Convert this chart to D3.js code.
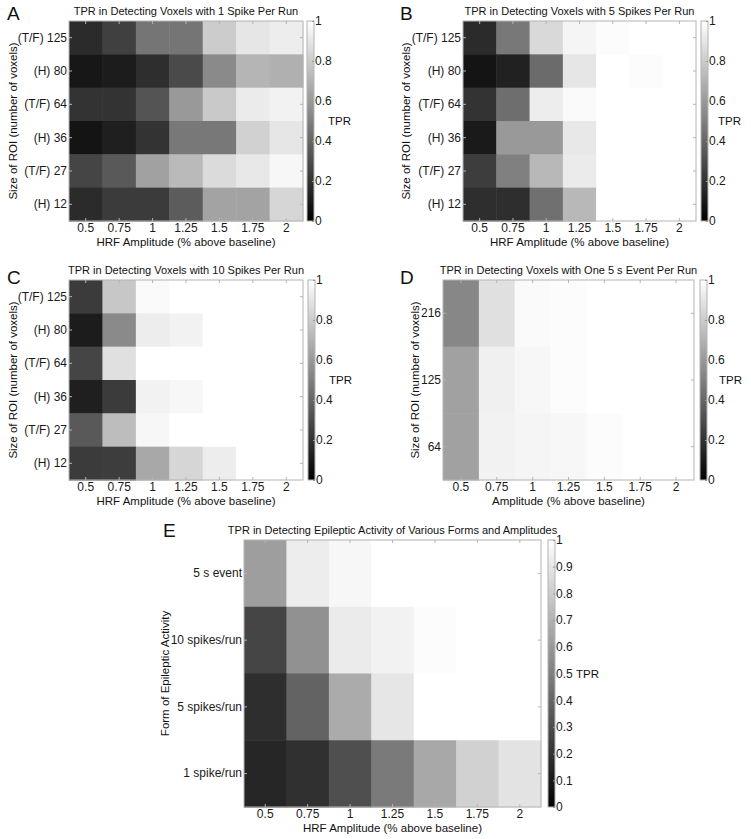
<!DOCTYPE html>
<html>
<head>
<meta charset="utf-8">
<script src="https://cdn.jsdelivr.net/npm/d3@7"></script>
<style>
  body { margin: 0; background: #fff; }
  svg { font-family: "Liberation Sans", Arial, sans-serif; }
  .tick text { fill: #1a1a1a; }
</style>
</head>
<body>
<script>
'use strict';

// amplitudes shared by every panel
var amplitudes = ['0.5', '0.75', '1', '1.25', '1.5', '1.75', '2'];
var roiRows = ['(T/F) 125', '(H) 80', '(T/F) 64', '(H) 36', '(T/F) 27', '(H) 12'];
var eventRows = ['216', '125', '64'];
var formRows = ['5 s event', '10 spikes/run', '5 spikes/run', '1 spike/run'];

// TPR values, rows top to bottom, columns 0.5 .. 2
var tprOneSpike = [
  [0.17, 0.25, 0.46, 0.46, 0.80, 0.90, 0.93],
  [0.09, 0.11, 0.18, 0.29, 0.54, 0.71, 0.69],
  [0.20, 0.20, 0.33, 0.60, 0.79, 0.92, 0.95],
  [0.08, 0.12, 0.20, 0.47, 0.47, 0.82, 0.90],
  [0.27, 0.35, 0.63, 0.73, 0.86, 0.91, 0.97],
  [0.17, 0.23, 0.23, 0.36, 0.64, 0.64, 0.84]
];
var tprFiveSpikes = [
  [0.17, 0.47, 0.85, 0.96, 0.99, 1.00, 1.00],
  [0.08, 0.13, 0.42, 0.90, 1.00, 0.99, 1.00],
  [0.20, 0.43, 0.93, 0.98, 1.00, 1.00, 1.00],
  [0.10, 0.60, 0.60, 0.91, 1.00, 1.00, 1.00],
  [0.24, 0.50, 0.72, 0.92, 1.00, 1.00, 1.00],
  [0.18, 0.18, 0.44, 0.72, 1.00, 1.00, 1.00]
];
var tprTenSpikes = [
  [0.23, 0.78, 0.98, 1.00, 1.00, 1.00, 1.00],
  [0.11, 0.54, 0.93, 0.95, 1.00, 1.00, 1.00],
  [0.27, 0.88, 1.00, 1.00, 1.00, 1.00, 1.00],
  [0.12, 0.23, 0.95, 0.97, 1.00, 1.00, 1.00],
  [0.35, 0.74, 0.97, 1.00, 1.00, 1.00, 1.00],
  [0.23, 0.24, 0.66, 0.84, 0.93, 1.00, 1.00]
];
var tprEvent = [
  [0.53, 0.88, 0.98, 0.99, 1.00, 1.00, 1.00],
  [0.63, 0.94, 0.97, 0.99, 1.00, 1.00, 1.00],
  [0.63, 0.95, 0.96, 0.97, 0.99, 1.00, 1.00]
];
var tprForms = [
  [0.62, 0.93, 0.97, 1.00, 1.00, 1.00, 1.00],
  [0.27, 0.57, 0.92, 0.95, 0.99, 1.00, 1.00],
  [0.18, 0.39, 0.67, 0.90, 1.00, 1.00, 1.00],
  [0.15, 0.19, 0.31, 0.48, 0.66, 0.82, 0.89]
];

var cbTicks = [0, 0.2, 0.4, 0.6, 0.8, 1];
var cbTicksFine = [0, 0.1, 0.2, 0.3, 0.4, 0.5, 0.6, 0.7, 0.8, 0.9, 1];

var W = 751, H = 839;
var frameColor = '#b4b4b4';
var fs = 11.5;

var svg = d3.select('body').append('svg')
  .attr('width', W)
  .attr('height', H);

var defs = svg.append('defs');
var grad = defs.append('linearGradient')
  .attr('id', 'gray')
  .attr('x1', 0).attr('y1', 1).attr('x2', 0).attr('y2', 0);
grad.append('stop').attr('offset', '0%').attr('stop-color', '#000');
grad.append('stop').attr('offset', '100%').attr('stop-color', '#fff');

var color = d3.scaleLinear().domain([0, 1]).range(['#000', '#fff']);

function panel(cfg) {
  var g = svg.append('g')
    .attr('transform', 'translate(' + cfg.x + ',' + cfg.y + ')');

  var x = d3.scaleBand().domain(amplitudes).range([0, cfg.w]);
  var y = d3.scaleBand().domain(cfg.rows).range([0, cfg.h]);

  // cells
  cfg.values.forEach(function (row, i) {
    g.selectAll(null)
      .data(row)
      .enter().append('rect')
      .attr('x', function (d, j) { return x(amplitudes[j]); })
      .attr('y', y(cfg.rows[i]))
      .attr('width', x.bandwidth() + 0.5)
      .attr('height', y.bandwidth() + 0.5)
      .attr('fill', function (d) { return color(d); });
  });

  g.append('rect')
    .attr('width', cfg.w).attr('height', cfg.h)
    .attr('fill', 'none')
    .attr('stroke', frameColor);

  // axes, ticks pointing inwards (matlab style)
  var bottom = g.append('g')
    .attr('transform', 'translate(0,' + cfg.h + ')')
    .call(d3.axisBottom(x).tickSize(-3).tickPadding(4));
  g.append('g')
    .call(d3.axisLeft(y).tickSize(-3).tickPadding(2));
  g.append('g')
    .call(d3.axisTop(x).tickSize(-3).tickFormat(''));
  g.append('g')
    .attr('transform', 'translate(' + cfg.w + ',0)')
    .call(d3.axisRight(y).tickSize(-3).tickFormat(''));

  g.selectAll('.domain').remove();
  g.selectAll('.tick line').attr('stroke', frameColor);
  g.selectAll('.tick text').attr('font-size', fs + 0.5);
  bottom.selectAll('.tick text').attr('dy', '0.6em');

  // titles and labels
  g.append('text')
    .attr('x', cfg.w / 2).attr('y', -6)
    .attr('text-anchor', 'middle')
    .attr('font-size', 11)
    .attr('fill', '#111')
    .text(cfg.title);

  g.append('text')
    .attr('x', cfg.w / 2).attr('y', cfg.h + 25)
    .attr('text-anchor', 'middle')
    .attr('font-size', fs)
    .attr('fill', '#111')
    .text(cfg.xLabel);

  g.append('text')
    .attr('transform', 'translate(' + cfg.yLabelX + ',' + cfg.h / 2 + ') rotate(-90)')
    .attr('text-anchor', 'middle')
    .attr('font-size', fs)
    .attr('fill', '#111')
    .text(cfg.yLabel);

  g.append('text')
    .attr('x', cfg.letterX).attr('y', cfg.letterY)
    .attr('font-size', 19)
    .attr('fill', '#111')
    .text(cfg.letter);

  // colorbar
  var cb = g.append('g')
    .attr('transform', 'translate(' + (cfg.w + cfg.cbGap) + ',0)');
  var cy = d3.scaleLinear().domain([0, 1]).range([cfg.h, 0]);
  cb.append('rect')
    .attr('width', 7).attr('height', cfg.h)
    .attr('fill', 'url(#gray)')
    .attr('stroke', frameColor);
  cb.append('g')
    .attr('transform', 'translate(7,0)')
    .call(d3.axisRight(cy).tickValues(cfg.cbTicks).tickSize(-2).tickPadding(1)
      .tickFormat(function (d) { return d3.format('~g')(d); }));
  cb.select('.domain').remove();
  cb.selectAll('.tick line').attr('stroke', '#999');
  cb.selectAll('.tick text').attr('font-size', fs + 0.5);
  cb.append('text')
    .attr('x', cfg.tprX).attr('y', cy(0.5) + 4)
    .attr('font-size', fs)
    .attr('fill', '#111')
    .text('TPR');
}

panel({
  letter: 'A', letterX: -62, letterY: -1,
  x: 69, y: 21, w: 234, h: 200, rows: roiRows, values: tprOneSpike,
  title: 'TPR in Detecting Voxels with 1 Spike Per Run',
  xLabel: 'HRF Amplitude (% above baseline)',
  yLabel: 'Size of ROI (number of voxels)', yLabelX: -52,
  cbGap: 4, cbTicks: cbTicks, tprX: 21
});

panel({
  letter: 'B', letterX: -63, letterY: -1,
  x: 463, y: 21, w: 233, h: 200, rows: roiRows, values: tprFiveSpikes,
  title: 'TPR in Detecting Voxels with 5 Spikes Per Run',
  xLabel: 'HRF Amplitude (% above baseline)',
  yLabel: 'Size of ROI (number of voxels)', yLabelX: -53,
  cbGap: 5, cbTicks: cbTicks, tprX: 17
});

panel({
  letter: 'C', letterX: -62, letterY: 4,
  x: 69, y: 280, w: 234, h: 200, rows: roiRows, values: tprTenSpikes,
  title: 'TPR in Detecting Voxels with 10 Spikes Per Run',
  xLabel: 'HRF Amplitude (% above baseline)',
  yLabel: 'Size of ROI (number of voxels)', yLabelX: -52,
  cbGap: 5, cbTicks: cbTicks, tprX: 21
});

panel({
  letter: 'D', letterX: -43, letterY: 4,
  x: 443, y: 280, w: 251, h: 200, rows: eventRows, values: tprEvent,
  title: 'TPR in Detecting Voxels with One 5 s Event Per Run',
  xLabel: 'Amplitude (% above baseline)',
  yLabel: 'Size of ROI (number of voxels)', yLabelX: -24,
  cbGap: 6, cbTicks: cbTicks, tprX: 19
});

panel({
  letter: 'E', letterX: -81, letterY: -3,
  x: 244, y: 540, w: 297, h: 267, rows: formRows, values: tprForms,
  title: 'TPR in Detecting Epileptic Activity of Various Forms and Amplitudes',
  xLabel: 'HRF Amplitude (% above baseline)',
  yLabel: 'Form of Epileptic Activity', yLabelX: -75,
  cbGap: 7, cbTicks: cbTicksFine, tprX: 28
});
</script>
</body>
</html>
